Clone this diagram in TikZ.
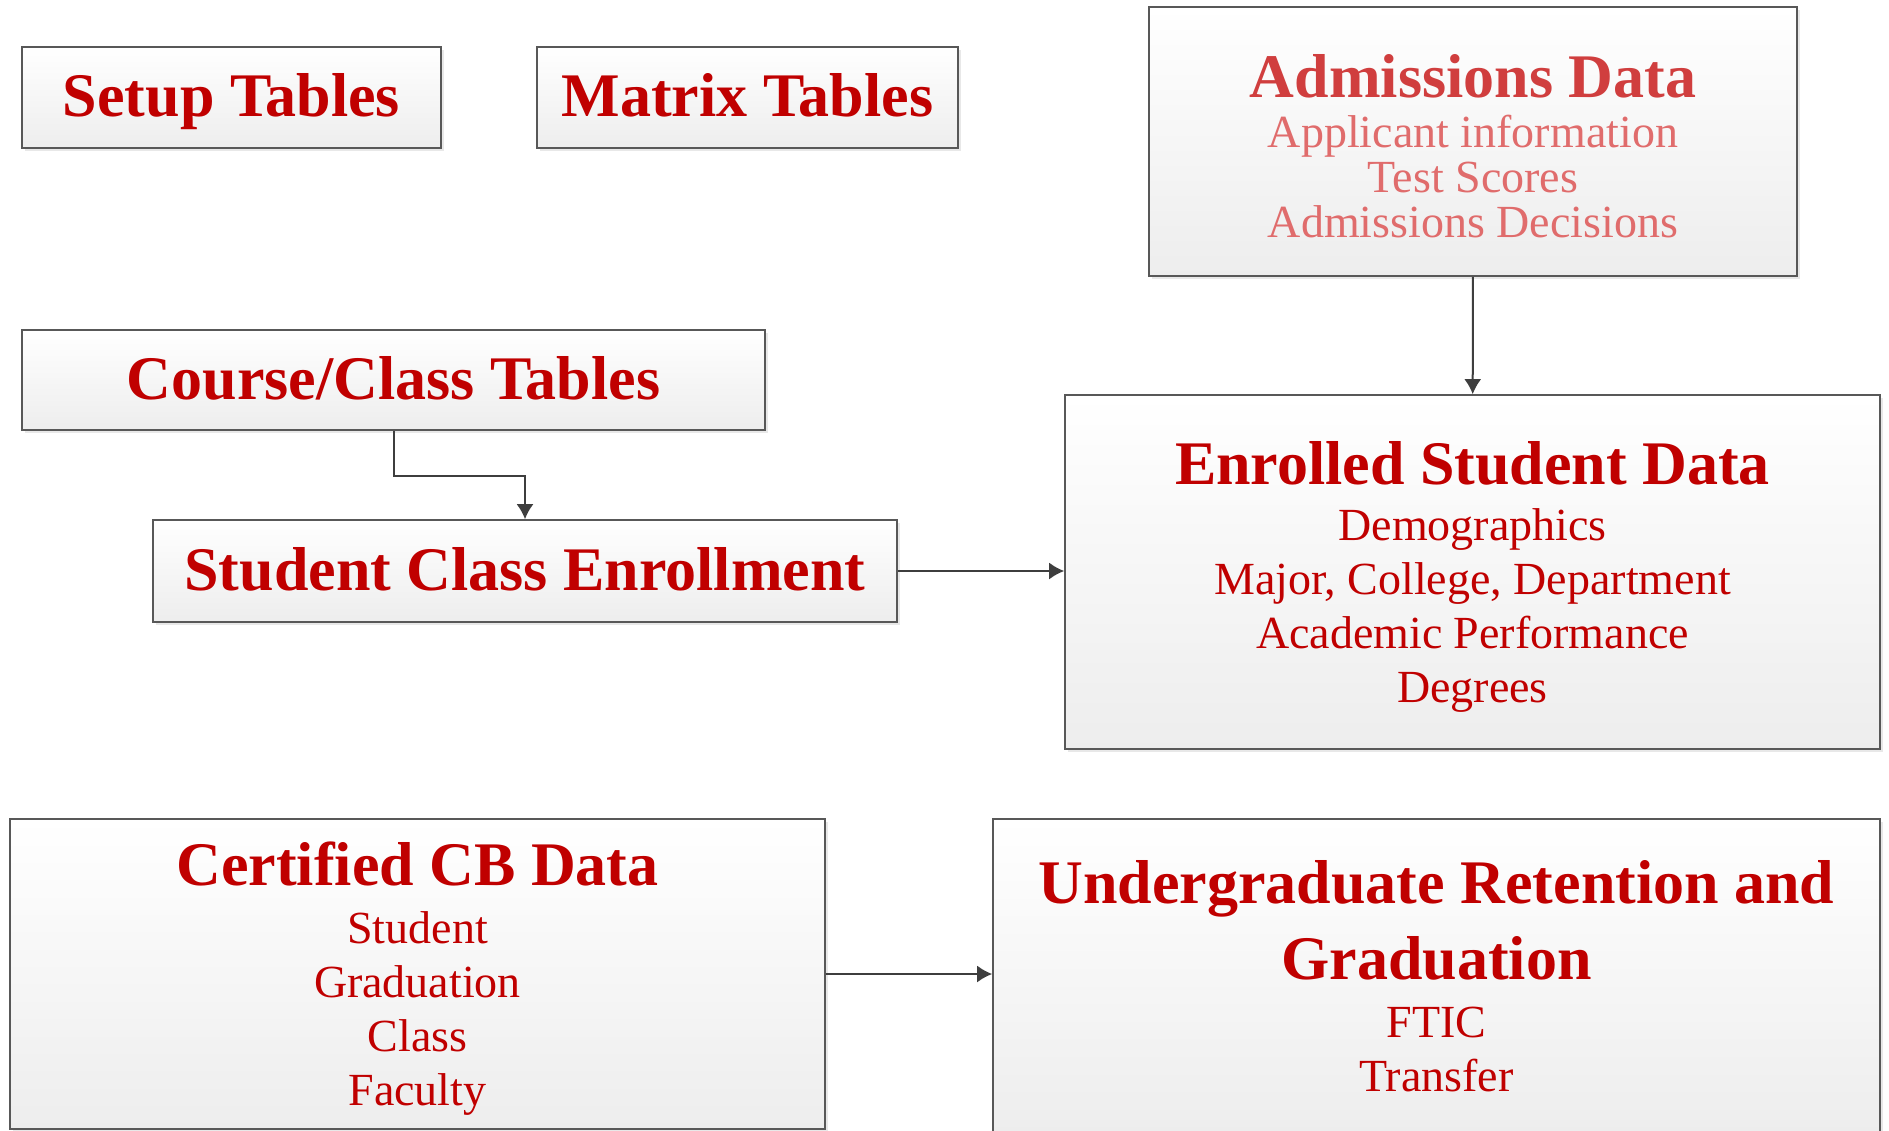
\documentclass[tikz,border=0pt]{standalone}
\usepackage{fontspec}
\setmainfont{Liberation Serif}
\usetikzlibrary{arrows.meta,shadows}

\definecolor{darkred}{RGB}{192,0,0}
\definecolor{palered}{RGB}{208,62,62}
\definecolor{palerred}{RGB}{224,108,108}
\definecolor{boxline}{RGB}{88,88,88}
\definecolor{arrowgray}{RGB}{62,62,62}
\newcommand{\boxtitle}[1]{{\fontsize{62}{62}\selectfont\bfseries #1}}
\newcommand{\boxhead}[1]{\rule{0pt}{52pt}\boxtitle{#1}}

\begin{document}
\begin{tikzpicture}[x=1pt,y=-1pt,
	tablebox/.style={draw=boxline, line width=1.6pt, top color=white, bottom color=gray!14,
		drop shadow={opacity=0.18, shadow xshift=3pt, shadow yshift=-3pt},
		align=center, inner sep=0pt, text=darkred, font=\fontsize{46}{54}\selectfont},
	onerow/.style={tablebox, text height=50pt, text depth=12pt},
	link/.style={draw=arrowgray, line width=2pt, -{Latex[length=15pt,width=17pt]}}]
			\useasboundingbox (0,0) rectangle (1889,1131);

			\node[onerow, minimum width=419, minimum height=101] (setup) at (231.5,97.5) {\boxtitle{Setup Tables}};
			\node[onerow, minimum width=421, minimum height=101] (matrix) at (747.5,97.5) {\boxtitle{Matrix Tables}};
			\node[tablebox, minimum width=648, minimum height=269, font=\fontsize{46}{45}\selectfont] (admissions) at (1473,141.5)
				{\color{palered}\boxhead{Admissions Data}\\[5pt] \color{palerred}Applicant information\\ \color{palerred}Test Scores\\ \color{palerred}Admissions Decisions};

			\node[onerow, minimum width=743, minimum height=100] (course) at (393.5,380) {\boxtitle{Course/Class Tables}};
			\node[onerow, minimum width=744, minimum height=102] (enrollment) at (525,571) {\boxtitle{Student Class Enrollment}};
			\node[tablebox, minimum width=815, minimum height=354] (enrolled) at (1472.5,572)
				{\boxhead{Enrolled Student Data}\\[2pt] Demographics\\ Major, College, Department\\ Academic Performance\\ Degrees};

			\node[tablebox, minimum width=815, minimum height=310] (certified) at (417.5,974)
				{\boxhead{Certified CB Data}\\[4pt] Student\\ Graduation\\ Class\\ Faculty};
			\node[tablebox, minimum width=887, minimum height=314] (retention) at (1436.5,976)
				{\boxtitle{Undergraduate Retention and}\\[18pt] \boxtitle{Graduation}\\[4pt] FTIC\\ Transfer};

			\draw[link] (admissions) to (enrolled);
			\draw[link] (course.south) -- ++(0,45) -| (enrollment.north);
			\draw[link] (enrollment.east) to (enrollment.east -| enrolled.west);
			\draw[link] (certified.east) to (certified.east -| retention.west);
		\end{tikzpicture}
\end{document}
